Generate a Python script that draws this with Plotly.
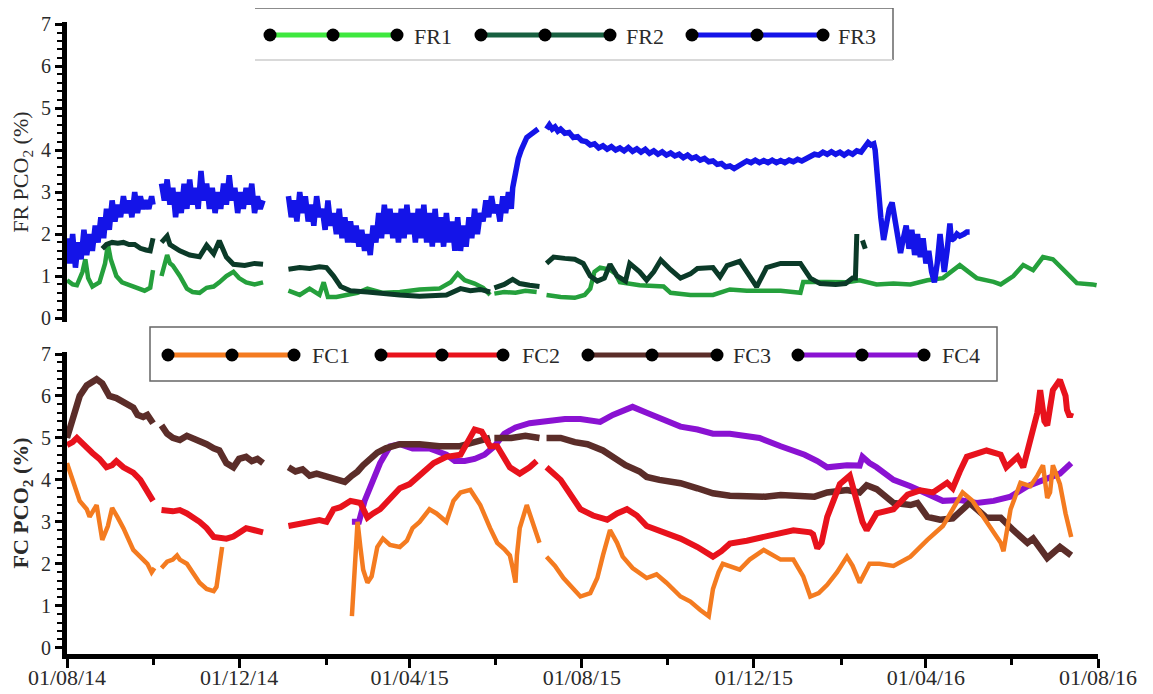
import plotly.graph_objects as go
import pandas as pd

# ---------------- data (day = days since 01/08/14, value = PCO2 %; None = gap) ----------------
BASE = pd.Timestamp("2014-08-01")
X_END = "2016-08-01"

FR1 = [(0,0.9),(4,0.8),(7,0.78),(11,1.1),(13,1.4),(15,0.95),(18,0.75),(23,0.85),(27,1.3),(29,1.75),
       (31,1.4),(35,1.0),(39,0.85),(43,0.8),(47,0.75),(52,0.7),(55,0.65),(59,0.72),(61,1.14),(64,None),
       (67,1.0),(71,1.5),(73,1.3),(75,1.25),(80,1.0),(85,0.7),(89,0.62),(94,0.6),(99,0.72),(104,0.75),
       (108,0.85),(113,1.0),(118,1.1),(122,0.95),(127,0.85),(133,0.8),(139,0.85),(148,None),
       (157,0.65),(162,0.6),(165,0.55),(172,0.7),(177,0.6),(179,0.55),(182,0.85),(185,0.5),(191,0.5),
       (197,0.55),(206,0.6),(213,0.7),(218,0.65),(224,0.6),(236,0.62),(250,0.68),(264,0.7),(272,0.85),
       (277,1.06),(282,0.9),(289,0.82),(295,0.72),(300,0.55),(301.5,None),
       (303,0.58),(310,0.62),(318,0.6),(325,0.65),(333,0.62),(337,None),
       (340,0.55),(350,0.5),(360,0.48),(367,0.55),(371,0.7),(374,1.1),(378,1.2),(385,1.15),(389,1.05),
       (392,0.85),(406,0.78),(423,0.75),(428,0.6),(442,0.55),(458,0.55),(470,0.68),(482,0.65),(506,0.65),
       (520,0.6),(522,0.86),(539,0.86),(553,0.85),(562,0.9),(574,0.8),(586,0.82),(598,0.8),(610,0.9),
       (621,0.95),(633,1.26),(645,0.95),(657,0.86),(662,0.8),(671,1.0),(678,1.26),(685,1.14),(692,1.45),
       (699,1.4),(709,1.05),(716,0.83),(727,0.8),(730,0.78)]

FR2 = [(25,1.65),(28,1.75),(32,1.8),(36,1.78),(40,1.8),(44,1.75),(48,1.75),(52,1.66),(56,1.62),(59,1.6),
       (61,1.9),(64,None),
       (67,1.8),(71,1.95),(73,1.75),(80,1.6),(87,1.5),(94,1.46),(99,1.73),(104,1.53),(108,1.84),(113,1.45),
       (118,1.28),(126,1.25),(133,1.3),(139,1.28),(148,None),
       (157,1.16),(165,1.2),(172,1.18),(179,1.22),(184,1.2),(189,1.0),(194,0.75),(201,0.65),(213,0.62),
       (224,0.58),(236,0.55),(250,0.52),(269,0.55),(279,0.7),(286,0.65),(293,0.68),(300,0.62),(301.5,None),
       (303,0.72),(310,0.8),(316,0.92),(321,0.82),(328,0.78),(335,0.75),(337,None),
       (340,1.3),(345,1.45),(353,1.42),(360,1.4),(366,1.3),(371,1.0),(376,0.88),(381,0.95),(385,1.28),
       (390,1.0),(396,0.88),(399,1.3),(406,1.1),(411,0.9),(416,1.1),(421,1.38),(428,1.15),(435,0.95),
       (442,1.05),(447,1.18),(458,1.2),(463,0.98),(468,1.25),(477,1.35),(484,1.0),(489,0.74),(496,1.2),
       (506,1.3),(520,1.3),(527,0.95),(534,0.82),(545,0.8),(552,0.82),(557,0.95),(559,0.95),(559.5,2.0),
       (560,2.0),(562,None),(564,1.85),(566,1.65)]

FR3 = [(0,1.9),(2,1.3),(4,2.0),(6,1.2),(8,1.8),(10,1.4),(12,2.1),(14,1.5),(16,2.0),(18,1.6),(20,2.2),
       (22,1.8),(24,2.4),(26,1.9),(28,2.6),(30,2.1),(32,2.8),(34,2.3),(36,2.7),(38,2.4),(40,2.9),(42,2.5),
       (44,2.8),(46,2.4),(48,3.0),(50,2.5),(52,2.9),(54,2.6),(56,2.8),(58,2.6),(60,2.9),(61,2.7),(64,None),
       (67,3.2),(69,2.8),(71,3.3),(73,2.7),(75,3.1),(77,2.4),(79,3.0),(81,2.5),(83,3.2),(85,2.6),(87,3.3),
       (89,2.7),(91,3.1),(93,2.6),(95,3.5),(97,2.8),(99,3.2),(101,2.6),(103,3.1),(105,2.5),(107,3.0),
       (109,2.6),(111,3.2),(113,2.7),(115,3.4),(117,2.8),(119,3.1),(121,2.5),(123,3.0),(125,2.6),(127,3.1),
       (129,2.7),(131,3.2),(133,2.5),(135,2.9),(137,2.6),(139,2.8),(148,None),
       (157,2.9),(159,2.4),(161,2.8),(163,2.3),(165,3.0),(167,2.5),(169,2.9),(171,2.3),(173,2.7),(175,2.2),
       (177,2.9),(179,2.4),(181,2.6),(183,2.1),(185,2.8),(187,2.2),(189,2.5),(191,2.0),(193,2.6),(195,1.9),
       (197,2.4),(199,1.8),(201,2.3),(203,1.8),(205,2.2),(207,1.7),(209,2.1),(211,1.6),(213,2.0),(215,1.5),
       (217,2.2),(219,1.8),(221,2.5),(223,1.9),(225,2.7),(227,2.0),(229,2.6),(231,1.9),(233,2.5),(235,1.8),
       (237,2.6),(239,1.9),(241,2.7),(243,2.0),(245,2.5),(247,1.8),(249,2.6),(251,1.9),(253,2.7),(255,1.8),
       (257,2.5),(259,1.7),(261,2.6),(263,1.8),(265,2.4),(267,1.7),(269,2.5),(271,1.8),(273,2.3),(275,1.6),
       (277,2.4),(279,1.6),(281,2.2),(283,1.7),(285,2.4),(287,1.9),(289,2.6),(291,2.0),(293,2.5),(295,2.3),
       (297,2.8),(299,2.4),(301,2.9),(303,2.5),(305,2.7),(307,2.3),(309,2.9),(311,2.5),(313,3.0),(315,2.6),
       (316,3.1),(318,3.5),(320,3.8),(322,4.0),(324,4.2),(326,4.3),(328,4.35),(330,4.4),(332,4.45),
       (334,4.5),(337,None),
       (340,4.5),(342,4.6),(344,4.5),(346,4.55),(348,4.45),(350,4.5),(353,4.4),(356,4.42),(359,4.3),
       (362,4.32),(365,4.22),(368,4.2),(371,4.12),(374,4.15),(377,4.05),(380,4.1),(383,4.02),(386,4.08),
       (389,4.0),(392,4.05),(395,3.98),(398,4.06),(401,3.97),(404,4.03),(407,3.95),(410,4.02),(413,3.92),
       (416,3.98),(419,3.9),(422,3.96),(425,3.88),(428,3.93),(431,3.86),(434,3.9),(437,3.82),(440,3.88),
       (443,3.8),(446,3.84),(449,3.76),(452,3.8),(455,3.72),(458,3.74),(461,3.66),(464,3.68),(467,3.6),
       (470,3.62),(473,3.56),(476,3.62),(479,3.66),(482,3.74),(485,3.7),(488,3.76),(491,3.7),(494,3.75),
       (497,3.7),(500,3.76),(503,3.7),(506,3.75),(509,3.7),(512,3.76),(515,3.72),(518,3.78),(521,3.74),
       (524,3.8),(527,3.84),(530,3.9),(533,3.88),(536,3.95),(539,3.9),(542,3.96),(545,3.9),(548,3.95),
       (551,3.88),(554,3.95),(557,3.9),(560,3.98),(563,3.95),(566,4.1),(568,4.18),(570,4.12),(572,4.15),
       (573,4.0),(575,3.0),(577,2.4),(579,1.86),(581,2.3),(583,2.6),(585,2.75),(587,2.4),(589,2.0),
       (591,1.55),(593,1.9),(595,2.2),(597,1.65),(599,2.1),(601,1.5),(603,2.0),(605,1.45),(607,1.9),
       (609,1.3),(611,1.6),(613,1.1),(615,0.85),(617,1.3),(619,2.0),(621,1.4),(622,1.1),(624,1.6),
       (626,2.25),(627,1.85),(629,1.9),(631,2.0),(633,1.95),(636,2.0),(638,2.05),(640,2.05)]

FC1 = [(0,4.4),(4,4.0),(9,3.5),(14,3.3),(16,3.12),(21,3.4),(25,2.57),(29,2.9),(32,3.33),(36,3.1),
       (40,2.85),(47,2.33),(52,2.15),(57,2.0),(60,1.8),(62,1.9),(64,None),
       (67,1.9),(71,2.05),(75,2.1),(78,2.2),(80,2.1),(85,2.0),(89,1.8),(94,1.55),(99,1.4),(104,1.35),
       (106,1.45),(108,1.9),(110,2.4),(150,None),
       (202,0.75),(204,2.0),(206,3.0),(208,2.4),(210,1.86),(213,1.55),(216,1.7),(220,2.4),(224,2.6),
       (229,2.45),(236,2.4),(241,2.55),(245,2.85),(250,3.0),(257,3.3),(262,3.2),(269,3.0),(274,3.5),
       (279,3.7),(286,3.76),(289,3.6),(293,3.4),(300,2.85),(305,2.5),(310,2.35),(314,2.2),(316,1.9),
       (318,1.55),(319,2.2),(321,2.85),(326,3.4),(331,2.9),(335,2.5),(337,None),
       (340,2.17),(346,1.95),(352,1.66),(358,1.45),(364,1.22),(371,1.3),(376,1.66),(380,2.2),(385,2.8),
       (390,2.5),(394,2.17),(401,1.9),(411,1.66),(418,1.75),(425,1.55),(435,1.22),(442,1.1),(449,0.9),
       (455,0.75),(458,1.4),(462,1.8),(465,2.0),(470,1.95),(477,1.86),(484,2.1),(494,2.33),(506,2.1),
       (515,2.1),(522,1.7),(527,1.22),(533,1.3),(539,1.5),(546,1.8),(553,2.17),(557,1.95),(562,1.55),
       (569,2.0),(576,2.0),(586,1.95),(598,2.17),(610,2.57),(621,2.9),(628,3.3),(635,3.7),(642,3.5),
       (652,3.0),(662,2.5),(664,2.3),(669,3.3),(676,3.93),(683,3.85),(688,4.1),(692,4.35),(695,3.57),
       (697,3.7),(699,4.35),(704,3.9),(708,3.2),(712,2.64)]

FC2 = [(0,4.83),(4,4.9),(7,5.0),(11,4.85),(18,4.64),(23,4.5),(28,4.3),(32,4.35),(35,4.45),(40,4.3),
       (47,4.17),(52,4.0),(57,3.75),(61,3.5),(64,None),
       (67,3.28),(75,3.25),(80,3.28),(85,3.2),(94,3.0),(99,2.85),(104,2.64),(113,2.6),(118,2.65),(122,2.74),
       (127,2.85),(133,2.8),(139,2.75),(148,None),
       (157,2.9),(165,2.95),(172,3.0),(179,3.04),(184,3.0),(189,3.3),(194,3.35),(201,3.5),(208,3.45),
       (213,3.1),(217,3.2),(222,3.3),(229,3.55),(236,3.8),(243,3.9),(250,4.1),(260,4.4),(269,4.55),
       (279,4.6),(284,4.9),(289,5.2),(294,5.15),(300,4.8),(305,4.8),(314,4.3),(321,4.15),(328,4.3),
       (333,4.45),(337,None),
       (340,4.3),(350,4.0),(364,3.3),(373,3.15),(383,3.05),(390,3.2),(397,3.3),(404,3.15),(411,2.9),
       (423,2.75),(435,2.6),(447,2.4),(458,2.17),(464,2.3),(470,2.48),(482,2.55),(494,2.64),(506,2.75),
       (515,2.8),(527,2.75),(529,2.7),(532,2.37),(535,2.5),(539,3.12),(543,3.5),(548,3.9),(555,4.1),
       (560,3.5),(564,3.0),(567,2.8),(574,3.2),(586,3.3),(591,3.5),(596,3.65),(605,3.75),(614,3.7),
       (624,3.93),(628,3.8),(633,4.2),(638,4.55),(652,4.7),(662,4.6),(666,4.3),(674,4.55),(678,4.3),
       (683,4.95),(688,5.6),(690,6.14),(693,5.4),(695,5.3),(699,6.14),(704,6.38),(708,6.0),(709,5.67),
       (711,5.5),(712,5.6)]

FC3 = [(0,5.0),(4,5.5),(9,6.0),(14,6.25),(21,6.4),(25,6.3),(30,6.0),(35,5.95),(40,5.85),(47,5.72),
       (50,5.55),(54,5.5),(57,5.55),(61,5.35),(64,None),
       (67,5.3),(71,5.1),(75,5.0),(80,4.95),(85,5.05),(89,5.0),(94,4.95),(99,4.85),(104,4.75),(108,4.7),
       (113,4.4),(118,4.3),(122,4.5),(127,4.55),(131,4.45),(135,4.5),(139,4.4),(148,None),
       (157,4.3),(162,4.2),(167,4.25),(172,4.1),(177,4.15),(182,4.1),(187,4.05),(192,4.0),(197,3.95),
       (202,4.1),(206,4.2),(210,4.35),(215,4.5),(220,4.65),(226,4.75),(236,4.85),(250,4.85),(264,4.8),
       (278,4.8),(290,4.9),(300,5.0),(301.5,None),
       (303,5.0),(315,5.0),(325,5.05),(335,5.0),(337,None),
       (340,5.0),(350,5.0),(360,4.9),(369,4.85),(380,4.7),(387,4.55),(396,4.35),(406,4.2),(411,4.07),
       (420,4.0),(435,3.92),(447,3.8),(458,3.68),(470,3.62),(482,3.6),(495,3.6),(506,3.64),(520,3.62),
       (530,3.6),(539,3.7),(553,3.76),(562,3.7),(567,3.87),(574,3.78),(580,3.6),(586,3.45),(598,3.4),
       (603,3.45),(610,3.12),(619,3.05),(628,3.08),(640,3.45),(652,3.1),(662,3.1),(671,2.8),(681,2.5),
       (685,2.6),(695,2.14),(704,2.4),(712,2.2)]

FC4 = [(202,3.0),(207,3.0),(211,3.5),(216,3.9),(222,4.4),(229,4.8),(236,4.85),(245,4.75),(257,4.75),
       (269,4.6),(275,4.45),(282,4.45),(289,4.5),(296,4.6),(303,4.8),(310,5.1),(318,5.25),(328,5.35),
       (340,5.4),(353,5.45),(364,5.45),(378,5.38),(387,5.55),(396,5.65),(401,5.74),(411,5.6),(423,5.45),
       (435,5.27),(447,5.2),(458,5.1),(470,5.1),(482,5.03),(491,5.0),(506,4.8),(515,4.7),(523,4.6),
       (532,4.45),(539,4.3),(553,4.35),(562,4.34),(564,4.55),(569,4.4),(574,4.3),(586,4.0),(598,3.85),
       (610,3.68),(621,3.5),(633,3.52),(645,3.45),(657,3.5),(669,3.6),(681,3.85),(692,4.0),(704,4.15),
       (712,4.4)]

TOP_NAMES = ["FR1", "FR2", "FR3"]
BOTTOM_NAMES = ["FC1", "FC2", "FC3", "FC4"]

# ---------------- styles ----------------
FONT = "Liberation Serif"
LINE_COL = {"FR1": "#25a03c", "FR2": "#0b3a28", "FR3": "#1414e8",
            "FC1": "#f47b20", "FC2": "#e8121c", "FC3": "#5b2d29", "FC4": "#8a12d2"}
LEG_COL = {"FR1": "#3ee83e", "FR2": "#176040", "FR3": "#1414e8",
           "FC1": "#f47b20", "FC2": "#e8121c", "FC3": "#5b2d29", "FC4": "#8a12d2"}
WIDTH = {"FR1": 4.5, "FR2": 5, "FR3": 5.5, "FC1": 4.5, "FC2": 6, "FC3": 6.5, "FC4": 6}

# page geometry (pixels in the browser window); the html body adds an 8 px offset
OFF = 8
W, H = 1153 - OFF, 694 - OFF
PL, PR, PT, PB = 67, 1098, 22, 654  # plot area in window pixels


def px2x(px):
    return (px - PL) / (PR - PL)


def px2y(py):
    return (PB - py) / (PB - PT)


def xy(pairs):
    xs = [BASE + pd.Timedelta(days=d) for d, v in pairs]
    ys = [v for d, v in pairs]
    return xs, ys


DATA = {"FR1": FR1, "FR2": FR2, "FR3": FR3, "FC1": FC1, "FC2": FC2, "FC3": FC3, "FC4": FC4}

fig = go.Figure()
for name in TOP_NAMES:
    x, y = xy(DATA[name])
    fig.add_trace(go.Scatter(x=x, y=y, mode="lines", name=name, connectgaps=False,
                             line=dict(color=LINE_COL[name], width=WIDTH[name]),
                             xaxis="x", yaxis="y", showlegend=False))
for name in ["FC4", "FC3", "FC2", "FC1"]:
    x, y = xy(DATA[name])
    fig.add_trace(go.Scatter(x=x, y=y, mode="lines", name=name, connectgaps=False,
                             line=dict(color=LINE_COL[name], width=WIDTH[name]),
                             xaxis="x2", yaxis="y2", showlegend=False))

xr = [BASE, pd.Timestamp(X_END)]
ytickfont = dict(family=FONT, size=20, color="#2a2a2a")
xtickfont = dict(family=FONT, size=22, color="#2a2a2a")

yax_common = dict(showline=True, linewidth=5, linecolor="black", ticks="outside", ticklen=7,
                  tickwidth=3, tickcolor="black", tickmode="linear", tick0=0, dtick=1,
                  minor=dict(ticks="outside", ticklen=5, tickwidth=2, tickcolor="black",
                             tickmode="linear", tick0=0, dtick=0.2),
                  showgrid=False, zeroline=False, tickfont=ytickfont, automargin=False)
yinside = dict(ticks="inside", ticklen=9, tickwidth=3, tickcolor="black", tickmode="linear",
               tick0=0, dtick=1, showticklabels=False, showline=False, showgrid=False,
               zeroline=False, side="left")

fig.update_layout(
    width=W, height=H,
    margin=dict(l=PL - OFF, r=OFF + W - PR, t=PT - OFF, b=OFF + H - PB),
    paper_bgcolor="white", plot_bgcolor="white",
    showlegend=False,
    xaxis=dict(domain=[0, 1], anchor="y", range=xr, type="date", visible=False),
    yaxis=dict(domain=[0.525, 1.0], anchor="x", range=[-0.1, 7.05],
               title=dict(text="FR PCO<sub>2</sub> (%)", standoff=8,
                          font=dict(family=FONT, size=22, color="#2a2a2a")),
               **yax_common),
    yaxis3=dict(overlaying="y", anchor="x", range=[-0.1, 7.05], **yinside),
    xaxis2=dict(domain=[0, 1], anchor="y2", range=xr, type="date", showline=True, linewidth=5,
                linecolor="black", ticks="outside", ticklen=9, tickwidth=3, tickcolor="black",
                tickmode="linear", tick0="2014-08-01", dtick="M4", tickformat="%d/%m/%y",
                ticklabelstandoff=-9,
                minor=dict(ticks="outside", ticklen=6, tickwidth=3, tickcolor="black",
                           tickmode="linear", tick0="2014-08-01", dtick="M2"),
                showgrid=False, zeroline=False, tickfont=xtickfont, automargin=False),
    xaxis3=dict(overlaying="x2", anchor="y2", range=xr, type="date", ticks="inside", ticklen=6,
                tickwidth=3, tickcolor="black", tickmode="linear", tick0="2014-08-01", dtick="M4",
                showticklabels=False, showline=False, showgrid=False, zeroline=False, side="bottom"),
    yaxis2=dict(domain=[0, 0.478], anchor="x2", range=[-0.15, 7.05],
                title=dict(text="<b>FC PCO<sub>2</sub> (%)</b>", standoff=8,
                           font=dict(family=FONT, size=22, color="#2a2a2a")),
                **yax_common),
    yaxis4=dict(overlaying="y2", anchor="x2", range=[-0.15, 7.05], **yinside),
)

# ---------------- hand-drawn legends (three dots per key, as in the original) ----------------
shapes = []
annotations = []


def hline(x0, x1, y, color, width):
    shapes.append(dict(type="line", xref="paper", yref="paper", x0=px2x(x0), x1=px2x(x1),
                       y0=px2y(y), y1=px2y(y), line=dict(color=color, width=width)))


def vline(x, y0, y1, color, width):
    shapes.append(dict(type="line", xref="paper", yref="paper", x0=px2x(x), x1=px2x(x),
                       y0=px2y(y0), y1=px2y(y1), line=dict(color=color, width=width)))


def key(name, dots, cy, text_x):
    hline(dots[0], dots[2], cy, LEG_COL[name], 5)
    for cx in dots:
        shapes.append(dict(type="circle", xref="paper", yref="paper", xsizemode="pixel",
                           ysizemode="pixel", xanchor=px2x(cx), yanchor=px2y(cy),
                           x0=-6.5, x1=6.5, y0=-6.5, y1=6.5, fillcolor="black",
                           line=dict(width=0)))
    annotations.append(dict(xref="paper", yref="paper", x=px2x(text_x), y=px2y(cy + 1),
                            xanchor="left", yanchor="middle", text=name, showarrow=False,
                            font=dict(family=FONT, size=22, color="#2a2a2a")))


# top legend frame (top, right, bottom edges)
hline(255, 893, 8, "#666666", 1.5)
vline(893, 8, 60, "#666666", 1.5)
hline(255, 893, 60, "#cccccc", 1.5)
key("FR1", [270, 333, 397], 35, 412)
key("FR2", [481, 545, 610], 35, 624)
key("FR3", [692, 757, 823], 35, 836)

# bottom legend frame
shapes.append(dict(type="rect", xref="paper", yref="paper", x0=px2x(150), x1=px2x(997),
                   y0=px2y(327), y1=px2y(381), line=dict(color="#666666", width=1.5)))
key("FC1", [168, 232, 294], 355, 310)
key("FC2", [381, 442, 503], 355, 520)
key("FC3", [588, 652, 717], 355, 731)
key("FC4", [798, 862, 924], 355, 940)

fig.update_layout(shapes=shapes, annotations=annotations)

fig.write_html("out.html")
